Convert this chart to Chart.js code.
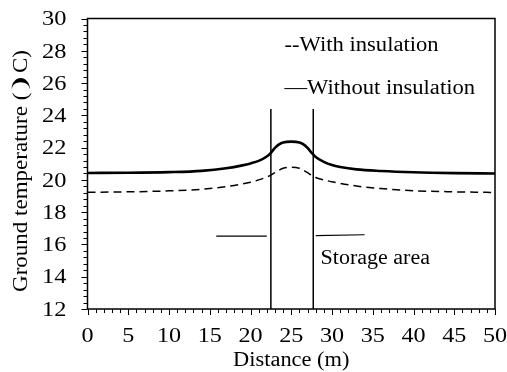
<!DOCTYPE html>
<html>
<head>
<meta charset="utf-8">
<script src="https://cdn.jsdelivr.net/npm/chart.js@4"></script>
<style>
  html, body { margin: 0; padding: 0; background: #fff; }
  #wrap { width: 507px; height: 372px; }
</style>
</head>
<body>
<div id="wrap"><canvas id="myChart" width="507" height="372"></canvas></div>
<script>
// distance (m) where temperatures were read
var distance = [0, 5, 10, 14, 17, 19, 20, 21, 22, 22.5, 23, 23.5, 24, 25, 26, 26.5, 27, 27.5, 28, 29, 30, 31, 33, 36, 40, 45, 50];
// ground temperature (C)
var withoutInsulation = [20.43, 20.44, 20.48, 20.56, 20.72, 20.9, 21.02, 21.18, 21.45, 21.68, 21.98, 22.2, 22.32, 22.37, 22.32, 22.2, 21.98, 21.68, 21.42, 21.12, 20.92, 20.8, 20.65, 20.55, 20.47, 20.42, 20.4];
var withInsulation = [19.23, 19.26, 19.32, 19.42, 19.58, 19.75, 19.86, 20.0, 20.18, 20.3, 20.45, 20.6, 20.72, 20.78, 20.72, 20.6, 20.45, 20.28, 20.15, 20.0, 19.88, 19.78, 19.62, 19.46, 19.33, 19.26, 19.22];

// storage area markers
var storageWalls = [22.5, 27.7];
var storageWallTop = 24.4;
var storageLeftMark = [{x: 15.8, y: 16.52}, {x: 22.0, y: 16.52}];
var storageRightMark = [{x: 28.0, y: 16.55}, {x: 34.0, y: 16.6}];

var xTicks = [0, 5, 10, 15, 20, 25, 30, 35, 40, 45, 50];
var yTicks = [12, 14, 16, 18, 20, 22, 24, 26, 28, 30];

var serif = '"Liberation Serif", "Times New Roman", serif';

function pts(xs, ys) {
    return xs.map(function (x, i) { return {x: x, y: ys[i]}; });
}

function wall(x) {
    return [{x: x, y: yTicks[0]}, {x: x, y: storageWallTop}];
}

// text in the original is a bit wider than Times
function wideText(c, txt, x, y, sx, rot) {
    c.save();
    c.translate(x, y);
    if (rot) c.rotate(rot);
    c.scale(sx, 1);
    c.fillText(txt, 0, 0);
    c.restore();
}

var frame = {
    id: 'frame',
    afterDraw: function (chart) {
        var c = chart.ctx, a = chart.chartArea;
        var xs = chart.scales.x, ys = chart.scales.y;
        c.save();
        c.strokeStyle = '#000';
        c.lineWidth = 1.5;
        c.strokeRect(a.left, a.top, a.right - a.left, a.bottom - a.top);
        c.lineWidth = 1;
        // x ticks every 1 m, longer every 5
        for (var v = 0; v <= 50; v++) {
            var px = Math.round(xs.getPixelForValue(v)) + 0.5;
            var len = v % 5 === 0 ? 6 : 4;
            c.beginPath();
            c.moveTo(px, a.bottom);
            c.lineTo(px, a.bottom + len);
            c.stroke();
        }
        // y ticks every 0.4, longer every 2
        for (var k = 0; k <= 45; k++) {
            var val = 12 + k * 0.4;
            var py = Math.round(ys.getPixelForValue(val)) + 0.5;
            var l2 = k % 5 === 0 ? 6 : 4;
            c.beginPath();
            c.moveTo(a.left, py);
            c.lineTo(a.left - l2, py);
            c.stroke();
        }
        c.fillStyle = '#000';
        c.textBaseline = 'middle';

        // tick labels
        c.textAlign = 'center';
        c.font = '21px ' + serif;
        xTicks.forEach(function (t) {
            wideText(c, String(t), xs.getPixelForValue(t), a.bottom + 27, 1.15);
        });
        c.textAlign = 'right';
        c.font = '20px ' + serif;
        yTicks.forEach(function (t) {
            wideText(c, String(t), a.left - 21, ys.getPixelForValue(t) + 1.5, 1.22);
        });

        // axis titles
        c.textAlign = 'center';
        c.font = '20px ' + serif;
        wideText(c, 'Distance (m)', (a.left + a.right) / 2, 361, 1.12);
        wideText(c, 'Ground temperature (\u2769C)', 22, 171, 1.15, -Math.PI / 2);

        c.textAlign = 'left';
        wideText(c, '--With insulation', a.left + 197, a.top + 27, 1.13);
        wideText(c, '\u2014Without insulation', a.left + 197, a.top + 70, 1.13);
        wideText(c, 'Storage area', xs.getPixelForValue(28.6), ys.getPixelForValue(15.1), 1.1);
        c.restore();
    }
};

var ctx = document.getElementById('myChart').getContext('2d');
var myChart = new Chart(ctx, {
    type: 'line',
    data: {
        datasets: [
            {
                label: 'Without insulation',
                data: pts(distance, withoutInsulation),
                borderColor: '#000',
                borderWidth: 2.6,
                pointRadius: 0,
                cubicInterpolationMode: 'monotone'
            },
            {
                label: 'With insulation',
                data: pts(distance, withInsulation),
                borderColor: '#000',
                borderWidth: 1.5,
                borderDash: [8, 5],
                pointRadius: 0,
                cubicInterpolationMode: 'monotone'
            },
            {data: wall(storageWalls[0]), borderColor: '#000', borderWidth: 1.5, pointRadius: 0},
            {data: wall(storageWalls[1]), borderColor: '#000', borderWidth: 1.5, pointRadius: 0},
            {data: storageLeftMark, borderColor: '#000', borderWidth: 1.2, pointRadius: 0},
            {data: storageRightMark, borderColor: '#000', borderWidth: 1.2, pointRadius: 0}
        ]
    },
    options: {
        responsive: false,
        animation: false,
        layout: {padding: {left: 0, right: 12, top: 18.5, bottom: 0}},
        plugins: {
            legend: {display: false},
            tooltip: {enabled: false}
        },
        scales: {
            x: {
                type: 'linear',
                min: 0,
                max: 50,
                grid: {display: false, drawTicks: false},
                border: {display: false},
                afterFit: function (s) { s.height = 63; s.paddingLeft = 0; s.paddingRight = 0; },
                afterBuildTicks: function (s) { s.ticks = xTicks.map(function (v) { return {value: v}; }); },
                ticks: {display: false}
            },
            y: {
                min: 12,
                max: 30,
                grid: {display: false, drawTicks: false},
                border: {display: false},
                afterFit: function (s) { s.width = 87.5; s.paddingTop = 0; s.paddingBottom = 0; },
                afterBuildTicks: function (s) { s.ticks = yTicks.map(function (v) { return {value: v}; }); },
                ticks: {display: false}
            }
        }
    },
    plugins: [frame]
});
</script>
</body>
</html>
